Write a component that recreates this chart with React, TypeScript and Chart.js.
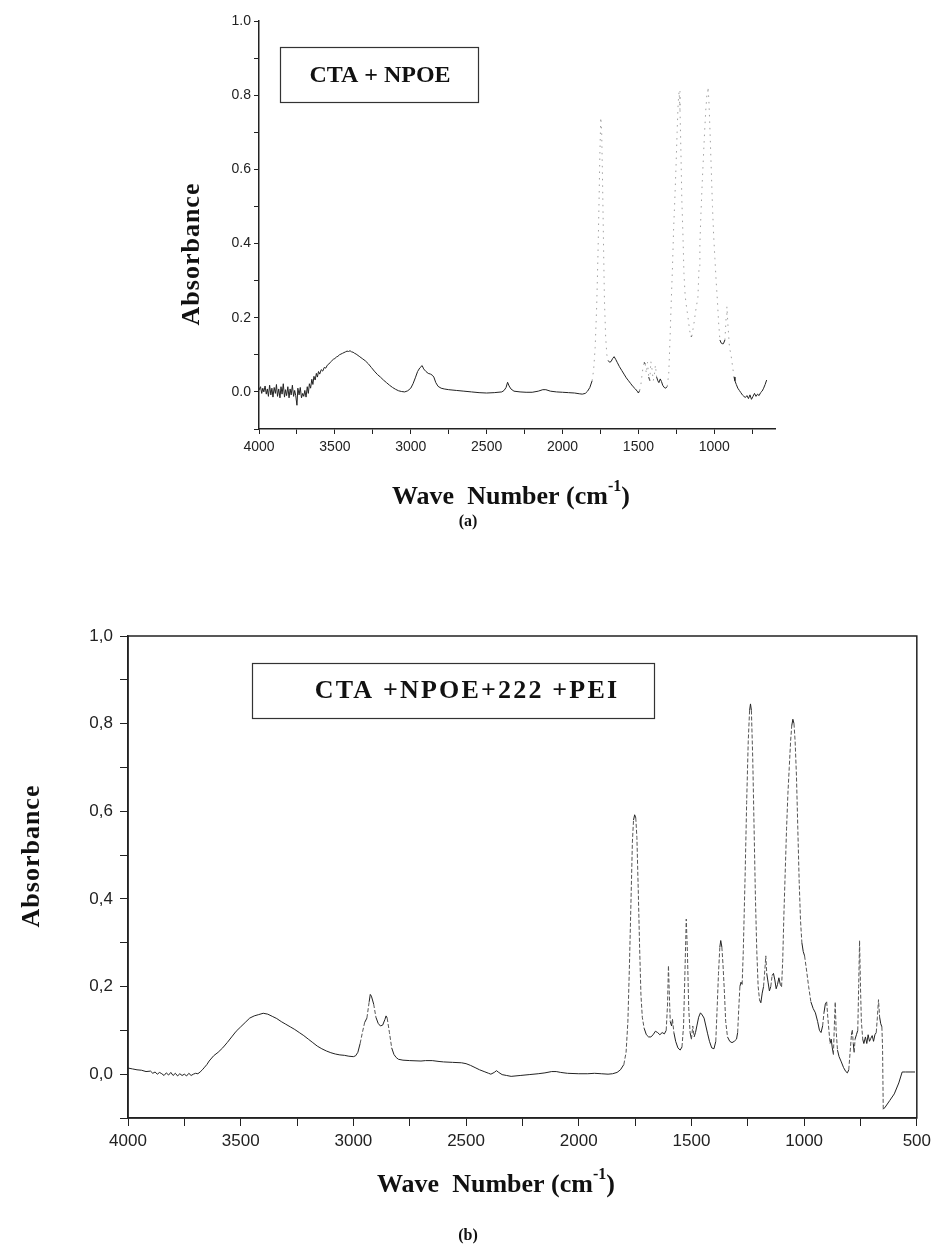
import React, { useEffect, useRef } from 'react';
import { Chart, registerables } from 'chart.js';
Chart.register(...registerables);

// ---------- DATA: panel (a) CTA + NPOE ----------
const waveA = [4000,3990,3982,3975,3968,3960,3952,3945,3938,3930,3922,3915,3908,3900,3892,3885,3878,3870,3862,3855,3848,3840,3832,3825,3818,3810,3802,3795,3788,3780,3772,3765,3758,3750,3744,3736,3728,3720,3712,3705,3698,3690,3682,3675,3668,3660,3652,3645,3638,3630,3622,3615,3608,3600,3590,3580,3570,3560,3550,3540,3530,3520,3510,3500,3490,3480,3470,3460,3450,3440,3430,3420,3410,3400,3390,3380,3370,3360,3340,3320,3300,3280,3260,3240,3220,3200,3180,3160,3140,3120,3100,3080,3060,3040,3020,3000,2985,2970,2955,2940,2925,2915,2900,2885,2870,2858,2848,2835,2820,2800,2780,2750,2700,2650,2600,2550,2500,2450,2400,2385,2372,2362,2352,2340,2320,2280,2240,2200,2160,2130,2110,2080,2040,2000,1960,1920,1890,1870,1850,1835,1820,1805,1795,1785,1775,1767,1760,1754,1748,1742,1736,1730,1724,1716,1708,1700,1690,1680,1670,1660,1650,1640,1625,1610,1595,1580,1565,1550,1535,1520,1508,1500,1492,1485,1478,1470,1462,1455,1448,1440,1432,1425,1418,1410,1402,1395,1388,1380,1372,1365,1356,1348,1340,1330,1320,1310,1300,1292,1284,1276,1268,1260,1252,1245,1238,1232,1226,1220,1214,1207,1200,1192,1185,1178,1170,1162,1155,1148,1140,1132,1124,1116,1108,1100,1095,1088,1080,1072,1064,1056,1048,1042,1036,1028,1020,1012,1004,996,988,980,972,963,955,948,940,930,922,917,910,900,890,880,870,864,855,845,835,825,815,805,795,785,775,765,755,745,735,725,715,705,695,685,675,665,655,645];
const absA = [0.005,0.014,-0.004,0.010,0.000,0.016,-0.006,0.008,-0.012,0.018,-0.008,0.010,-0.014,0.012,-0.004,0.020,-0.012,0.008,-0.016,0.014,-0.006,0.022,-0.014,0.006,-0.010,0.014,-0.016,0.008,-0.008,0.018,-0.012,0.004,-0.010,-0.036,0.010,-0.008,0.012,-0.016,-0.004,-0.012,0.004,-0.014,0.014,-0.004,0.022,0.010,0.034,0.020,0.042,0.032,0.050,0.040,0.055,0.048,0.060,0.056,0.066,0.064,0.072,0.075,0.080,0.084,0.088,0.090,0.094,0.096,0.100,0.102,0.104,0.106,0.108,0.110,0.109,0.111,0.108,0.107,0.104,0.102,0.096,0.090,0.084,0.076,0.066,0.056,0.047,0.040,0.032,0.025,0.018,0.012,0.007,0.003,0.001,0.000,0.003,0.010,0.022,0.038,0.055,0.065,0.071,0.062,0.055,0.050,0.048,0.045,0.040,0.025,0.015,0.010,0.008,0.006,0.004,0.002,0.000,-0.002,-0.003,-0.002,0.000,0.004,0.012,0.026,0.016,0.008,0.002,0.000,-0.001,-0.001,0.002,0.006,0.006,0.002,0.000,-0.001,-0.002,-0.003,-0.005,-0.006,-0.004,0.002,0.012,0.030,0.060,0.120,0.230,0.360,0.500,0.640,0.740,0.700,0.560,0.400,0.250,0.150,0.100,0.085,0.080,0.082,0.090,0.095,0.088,0.080,0.068,0.058,0.048,0.038,0.030,0.022,0.014,0.008,0.002,-0.003,0.004,0.015,0.040,0.065,0.080,0.075,0.050,0.080,0.040,0.030,0.082,0.060,0.030,0.045,0.072,0.040,0.030,0.025,0.035,0.028,0.018,0.012,0.010,0.015,0.050,0.140,0.240,0.330,0.440,0.520,0.610,0.700,0.780,0.810,0.760,0.650,0.520,0.430,0.320,0.260,0.235,0.215,0.190,0.165,0.150,0.150,0.170,0.190,0.215,0.235,0.255,0.340,0.400,0.480,0.560,0.630,0.700,0.760,0.805,0.822,0.790,0.700,0.600,0.500,0.420,0.360,0.300,0.250,0.190,0.140,0.132,0.130,0.130,0.140,0.200,0.230,0.180,0.120,0.100,0.070,0.040,0.030,0.020,0.010,0.004,-0.002,-0.008,-0.012,-0.015,-0.010,-0.018,-0.008,-0.020,-0.012,-0.004,-0.012,-0.006,-0.010,-0.002,0.002,0.010,0.020,0.032];

// ---------- DATA: panel (b) CTA + NPOE + 222 + PEI ----------
const waveB = [4000,3980,3960,3940,3920,3900,3890,3880,3870,3860,3850,3840,3830,3820,3810,3800,3790,3780,3770,3760,3750,3740,3730,3720,3710,3700,3690,3680,3670,3660,3650,3640,3620,3600,3580,3560,3540,3520,3500,3480,3460,3440,3420,3400,3380,3360,3340,3320,3300,3280,3260,3240,3220,3200,3180,3160,3140,3120,3100,3080,3060,3040,3020,3000,2990,2980,2970,2960,2950,2940,2930,2925,2920,2910,2900,2890,2880,2870,2860,2855,2850,2840,2830,2820,2810,2800,2780,2750,2700,2680,2650,2620,2600,2560,2520,2500,2480,2460,2440,2420,2400,2390,2375,2365,2355,2340,2320,2300,2260,2220,2180,2150,2120,2100,2080,2050,2000,1960,1930,1900,1870,1850,1830,1815,1800,1790,1782,1775,1768,1762,1757,1752,1747,1742,1736,1730,1724,1718,1710,1700,1690,1680,1670,1660,1650,1640,1630,1620,1612,1606,1602,1598,1594,1588,1584,1578,1570,1560,1550,1542,1535,1528,1523,1518,1512,1506,1500,1494,1488,1482,1476,1468,1460,1452,1444,1436,1428,1420,1410,1400,1392,1386,1380,1374,1370,1365,1360,1354,1348,1340,1330,1320,1310,1300,1295,1290,1285,1280,1275,1270,1262,1255,1248,1242,1238,1234,1228,1222,1216,1210,1204,1198,1192,1186,1180,1174,1170,1166,1160,1154,1148,1142,1136,1130,1124,1118,1112,1106,1100,1095,1090,1084,1078,1072,1066,1060,1055,1050,1045,1040,1034,1028,1022,1016,1010,1004,998,990,980,970,960,950,940,932,925,918,912,906,900,895,890,885,880,875,870,866,862,858,852,845,835,825,815,808,802,796,790,786,782,778,774,768,762,758,754,750,746,740,735,728,722,716,710,704,698,692,686,680,675,670,665,660,655,652,649,640,620,600,580,565,550,530,508];
const absB = [0.014,0.012,0.010,0.009,0.006,0.007,0.002,0.005,0.000,0.004,0.001,-0.003,0.003,-0.002,0.004,-0.003,0.002,-0.004,0.001,-0.003,0.000,-0.004,0.002,-0.003,0.000,0.002,0.001,0.005,0.010,0.016,0.022,0.030,0.042,0.050,0.060,0.072,0.085,0.098,0.108,0.118,0.128,0.133,0.136,0.139,0.137,0.132,0.127,0.120,0.114,0.108,0.102,0.095,0.088,0.080,0.072,0.064,0.058,0.053,0.049,0.046,0.044,0.043,0.041,0.040,0.042,0.050,0.070,0.095,0.118,0.128,0.165,0.182,0.178,0.160,0.130,0.116,0.110,0.112,0.125,0.133,0.128,0.095,0.060,0.045,0.038,0.034,0.032,0.031,0.030,0.031,0.031,0.029,0.028,0.027,0.026,0.024,0.020,0.015,0.010,0.006,0.002,0.000,0.004,0.008,0.004,-0.001,-0.003,-0.005,-0.003,-0.001,0.001,0.003,0.006,0.006,0.004,0.002,0.001,0.001,0.002,0.001,0.000,0.001,0.004,0.010,0.022,0.050,0.120,0.250,0.400,0.530,0.580,0.592,0.585,0.540,0.420,0.290,0.180,0.130,0.105,0.090,0.085,0.085,0.090,0.098,0.095,0.090,0.095,0.092,0.100,0.160,0.248,0.180,0.120,0.110,0.125,0.095,0.075,0.060,0.055,0.062,0.110,0.250,0.354,0.280,0.150,0.095,0.080,0.110,0.085,0.095,0.110,0.130,0.140,0.135,0.128,0.110,0.092,0.075,0.060,0.058,0.075,0.150,0.230,0.290,0.305,0.290,0.250,0.190,0.120,0.085,0.075,0.072,0.075,0.080,0.095,0.150,0.200,0.210,0.205,0.280,0.450,0.620,0.760,0.830,0.845,0.830,0.720,0.560,0.400,0.280,0.200,0.170,0.163,0.185,0.200,0.240,0.270,0.230,0.210,0.190,0.200,0.225,0.230,0.215,0.195,0.205,0.220,0.205,0.200,0.260,0.360,0.460,0.560,0.640,0.700,0.760,0.795,0.810,0.800,0.760,0.680,0.560,0.440,0.350,0.300,0.280,0.270,0.240,0.200,0.165,0.150,0.140,0.120,0.100,0.095,0.110,0.140,0.160,0.165,0.130,0.100,0.070,0.080,0.060,0.045,0.110,0.165,0.100,0.055,0.040,0.028,0.015,0.006,0.003,0.010,0.050,0.090,0.100,0.070,0.050,0.080,0.090,0.100,0.200,0.305,0.200,0.120,0.080,0.070,0.085,0.070,0.090,0.075,0.082,0.088,0.075,0.090,0.095,0.130,0.170,0.130,0.115,0.108,0.060,-0.080,-0.075,-0.060,-0.045,-0.020,0.005,0.005,0.005,0.005];

// ---------- TICKS / LABELS ----------
const yMajor = [0, 0.2, 0.4, 0.6, 0.8, 1.0];
const yMinor = [-0.1, 0.1, 0.3, 0.5, 0.7, 0.9];
const xMajor = [4000, 3500, 3000, 2500, 2000, 1500, 1000, 500];
const xMinor = [3750, 3250, 2750, 2250, 1750, 1250, 750];
const legendTextA = 'CTA + NPOE';
const legendTextB = 'CTA +NPOE+222 +PEI';
const yTitleText = 'Absorbance';
const xTitleMain = 'Wave  Number (cm';
const xTitleSup = '-1';
const xTitleEnd = ')';
const captionA = '(a)';
const captionB = '(b)';

const SERIF = '"Liberation Serif", "Times New Roman", serif';
const SANS = '"Liberation Sans", Arial, sans-serif';

function makeSteep(wave: number[], minDy: number, ratio: number, below: number) {
  return (ctx: any) => {
    if (wave[ctx.p0DataIndex] > below) return false;
    const dx = Math.abs(ctx.p1.x - ctx.p0.x);
    const dy = Math.abs(ctx.p1.y - ctx.p0.y);
    return dy > minDy && dy > ratio * dx;
  };
}

const decorPlugin = {
  id: 'decor',
  afterDraw(chart: any, _args: any, opts: any) {
    const c = chart.ctx;
    const ca = chart.chartArea;
    c.save();
    if (opts.frame) {
      c.strokeStyle = '#222';
      c.lineWidth = 1.5;
      c.strokeRect(ca.left, ca.top, ca.right - ca.left, ca.bottom - ca.top);
    }
    // legend box
    const b = opts.box;
    c.strokeStyle = '#333';
    c.lineWidth = 1.2;
    c.strokeRect(b[0] + 0.5, b[1] + 0.5, b[2] - b[0], b[3] - b[1]);
    c.fillStyle = '#111';
    c.font = `bold ${opts.boxFont}px ${SERIF}`;
    c.textAlign = 'center';
    c.textBaseline = 'middle';
    (c as any).letterSpacing = opts.boxSpacing + 'px';
    c.fillText(opts.boxText, opts.boxTextX, (b[1] + b[3]) / 2 + 1);
    (c as any).letterSpacing = '0px';
    // y title
    c.save();
    c.translate(opts.yTitle[0], opts.yTitle[1]);
    c.rotate(-Math.PI / 2);
    c.font = `bold ${opts.titleFont}px ${SERIF}`;
    (c as any).letterSpacing = '1px';
    c.fillText(yTitleText, 0, 0);
    c.restore();
    (c as any).letterSpacing = '0px';
    // x title with superscript
    c.font = `bold ${opts.titleFont}px ${SERIF}`;
    c.textAlign = 'left';
    const w1 = c.measureText(xTitleMain).width;
    c.font = `bold ${Math.round(opts.titleFont * 0.6)}px ${SERIF}`;
    const w2 = c.measureText(xTitleSup).width;
    c.font = `bold ${opts.titleFont}px ${SERIF}`;
    const w3 = c.measureText(xTitleEnd).width;
    let x = opts.xTitle[0] - (w1 + w2 + w3) / 2;
    const y = opts.xTitle[1];
    c.fillText(xTitleMain, x, y);
    x += w1;
    c.font = `bold ${Math.round(opts.titleFont * 0.6)}px ${SERIF}`;
    c.fillText(xTitleSup, x, y - opts.titleFont * 0.4);
    x += w2;
    c.font = `bold ${opts.titleFont}px ${SERIF}`;
    c.fillText(xTitleEnd, x, y);
    // caption
    c.textAlign = 'center';
    c.font = `bold 16px ${SERIF}`;
    c.fillText(opts.caption, opts.captionPos[0], opts.captionPos[1]);
    c.restore();
  },
};

function makeConfig(p: any): any {
  const data = p.wave.map((w: number, i: number) => ({ x: w, y: p.abs[i] }));
  const xTicks = [...xMajor, ...xMinor].filter((v) => v >= p.xMin).sort((a, b) => b - a);
  const yTicks = [...yMajor, ...yMinor].sort((a, b) => a - b);
  const steep = makeSteep(p.wave, p.steepMinDy, p.steepRatio, p.steepBelow);
  return {
    type: 'line',
    data: {
      datasets: [
        {
          data,
          borderColor: '#222',
          borderWidth: 1,
          pointRadius: 0,
          tension: 0,
          segment: {
            borderColor: (ctx: any) => (steep(ctx) ? p.steepColor : '#222'),
            borderDash: (ctx: any) => (steep(ctx) ? p.steepDash : undefined),
          },
        },
      ],
    },
    options: {
      responsive: false,
      animation: false,
      events: [],
      layout: { padding: p.padding },
      plugins: {
        legend: { display: false },
        tooltip: { enabled: false },
        decor: p.decor,
      },
      scales: {
        x: {
          type: 'linear',
          reverse: true,
          min: p.xMin,
          max: 4000,
          afterBuildTicks: (axis: any) => {
            axis.ticks = xTicks.map((v) => ({ value: v }));
          },
          afterFit: (s: any) => {
            s.height = p.xAxisH;
          },
          ticks: {
            autoSkip: false,
            maxRotation: 0,
            padding: p.xPad,
            color: '#222',
            font: { family: SANS, size: p.tickFont },
            callback: (v: number) => (xMajor.includes(v) ? String(v) : ''),
          },
          grid: { drawOnChartArea: false, drawTicks: true, tickLength: p.tickLen, color: '#222' },
          border: { color: '#222', width: 1.5 },
        },
        y: {
          type: 'linear',
          min: -0.1,
          max: 1.0,
          afterBuildTicks: (axis: any) => {
            axis.ticks = yTicks.map((v) => ({ value: v }));
          },
          afterFit: (s: any) => {
            s.width = p.yAxisW;
          },
          ticks: {
            autoSkip: false,
            padding: p.yPad,
            color: '#222',
            font: { family: SANS, size: p.tickFont },
            callback: (v: number) => {
              const k = Math.round(v * 10);
              if (k < 0 || k % 2 !== 0) return '';
              const s = (k / 10).toFixed(1);
              return p.comma ? s.replace('.', ',') : s;
            },
          },
          grid: { drawOnChartArea: false, drawTicks: true, tickLength: p.tickLen, color: '#222' },
          border: { color: '#222', width: 1.5 },
        },
      },
    },
    plugins: [decorPlugin],
  };
}

function Panel(props: { top: number; height: number; cfg: any }) {
  const ref = useRef<HTMLCanvasElement | null>(null);
  useEffect(() => {
    const chart = new Chart(ref.current as HTMLCanvasElement, makeConfig(props.cfg));
    return () => chart.destroy();
  }, []);
  return (
    <canvas
      ref={ref}
      width={936}
      height={props.height}
      style={{ position: 'absolute', left: 0, top: props.top, width: 936, height: props.height }}
    />
  );
}

const cfgA = {
  wave: waveA,
  abs: absA,
  xMin: 600,
  padding: { left: 0, right: 161, top: 21, bottom: 0 },
  yAxisW: 259,
  xAxisH: 111,
  tickLen: 5,
  xPad: 5,
  yPad: 3,
  tickFont: 14,
  comma: false,
  steepColor: '#a0a0a0',
  steepDash: [1.5, 5],
  steepMinDy: 4,
  steepRatio: 3,
  steepBelow: 1850,
  decor: {
    frame: false,
    box: [280, 47, 478, 102],
    boxText: legendTextA,
    boxTextX: 380,
    boxFont: 24,
    boxSpacing: 0,
    titleFont: 26,
    yTitle: [192, 254],
    xTitle: [511, 497],
    caption: captionA,
    captionPos: [468, 522],
  },
};

const cfgB = {
  wave: waveB,
  abs: absB,
  xMin: 500,
  padding: { left: 0, right: 18, top: 96, bottom: 0 },
  yAxisW: 128,
  xAxisH: 131,
  tickLen: 8,
  xPad: 5,
  yPad: 7,
  tickFont: 17,
  comma: true,
  steepColor: '#555',
  steepDash: [4, 2],
  steepMinDy: 10,
  steepRatio: 3.5,
  steepBelow: 4000,
  decor: {
    frame: true,
    box: [252, 123, 654, 178],
    boxText: legendTextB,
    boxTextX: 467,
    boxFont: 26,
    boxSpacing: 2.2,
    titleFont: 26,
    yTitle: [32, 316],
    xTitle: [496, 645],
    caption: captionB,
    captionPos: [468, 696],
  },
};

export default function App() {
  return (
    <div style={{ position: 'absolute', left: 0, top: 0, width: 936, height: 1249, background: '#fff' }}>
      <Panel top={0} height={540} cfg={cfgA} />
      <Panel top={540} height={709} cfg={cfgB} />
    </div>
  );
}
